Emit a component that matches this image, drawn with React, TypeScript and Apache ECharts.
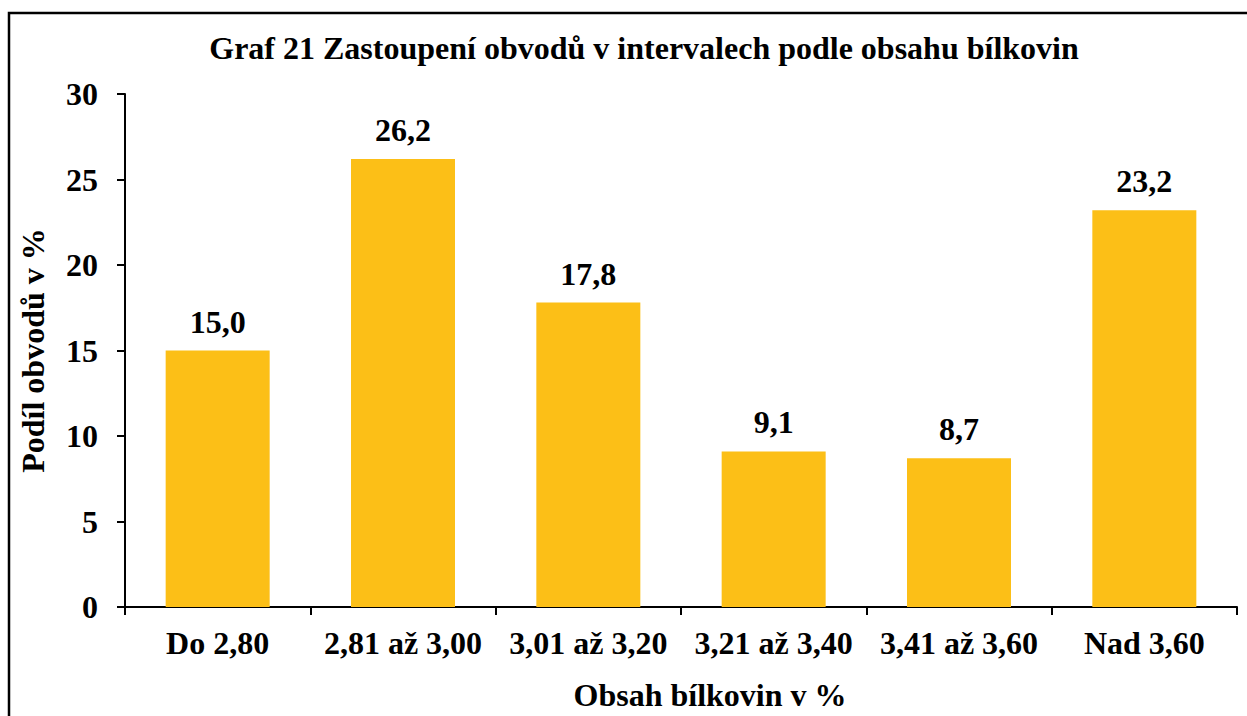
import React, { useEffect, useRef } from "react";
import * as echarts from "echarts";

const title = "Graf 21 Zastoupení obvodů v intervalech podle obsahu bílkovin";
const categories = ["Do 2,80", "2,81 až 3,00", "3,01 až 3,20", "3,21 až 3,40", "3,41 až 3,60", "Nad 3,60"];
const values = [15.0, 26.2, 17.8, 9.1, 8.7, 23.2];
const yAxisName = "Podíl obvodů v %";
const xAxisName = "Obsah bílkovin v %";

const FONT = "'Liberation Serif', 'Times New Roman', serif";

export default function App() {
  const ref = useRef<HTMLDivElement>(null);
  useEffect(() => {
    document.body.style.overflow = "hidden";
    const chart = echarts.init(ref.current!, null, { renderer: "svg" });
    chart.setOption({
      animation: false,
      backgroundColor: "#ffffff",
      textStyle: { fontFamily: FONT, fontWeight: "bold", color: "#000" },
      title: {
        text: title,
        left: 644,
        textAlign: "center",
        top: 32,
        padding: 0,
        textStyle: { fontFamily: FONT, fontWeight: "bold", fontSize: 32, color: "#000" },
      },
      graphic: [
        {
          type: "rect",
          shape: { x: 9, y: 13, width: 1260, height: 740 },
          style: { fill: "none", stroke: "#000", lineWidth: 2.5 },
          silent: true,
        },
      ],
      grid: { left: 125, right: 10, top: 94, bottom: 102, containLabel: false },
      xAxis: {
        type: "category",
        data: categories,
        name: xAxisName,
        nameLocation: "middle",
        nameGap: 72,
        nameTextStyle: {
          fontFamily: FONT,
          fontWeight: "bold",
          fontSize: 32,
          color: "#000",
          verticalAlign: "top",
          padding: [0, 0, 0, 58],
        },
        axisLine: { lineStyle: { color: "#000", width: 2 } },
        axisTick: { show: true, alignWithLabel: false, inside: false, length: 8, lineStyle: { color: "#000", width: 2 } },
        axisLabel: { margin: 20, fontFamily: FONT, fontWeight: "bold", fontSize: 32, color: "#000", interval: 0 },
      },
      yAxis: {
        type: "value",
        min: 0,
        max: 30,
        interval: 5,
        name: yAxisName,
        nameLocation: "middle",
        nameGap: 76,
        nameRotate: 90,
        nameTextStyle: { fontFamily: FONT, fontWeight: "bold", fontSize: 32, color: "#000" },
        splitLine: { show: false },
        axisLine: { show: true, lineStyle: { color: "#000", width: 2 } },
        axisTick: { show: true, inside: false, length: 8, lineStyle: { color: "#000", width: 2 } },
        axisLabel: { margin: 27, fontFamily: FONT, fontWeight: "bold", fontSize: 32, color: "#000" },
      },
      series: [
        {
          type: "bar",
          data: values,
          barWidth: 104,
          itemStyle: { color: "#FCBF17" },
          label: {
            show: true,
            position: "top",
            distance: 13,
            fontFamily: FONT,
            fontWeight: "bold",
            fontSize: 32,
            color: "#000",
            formatter: (p: any) => Number(p.value).toFixed(1).replace(".", ","),
          },
        },
      ],
    });
    return () => chart.dispose();
  }, []);
  return <div ref={ref} style={{ position: "fixed", left: 0, top: 0, width: 1247, height: 716 }} />;
}
